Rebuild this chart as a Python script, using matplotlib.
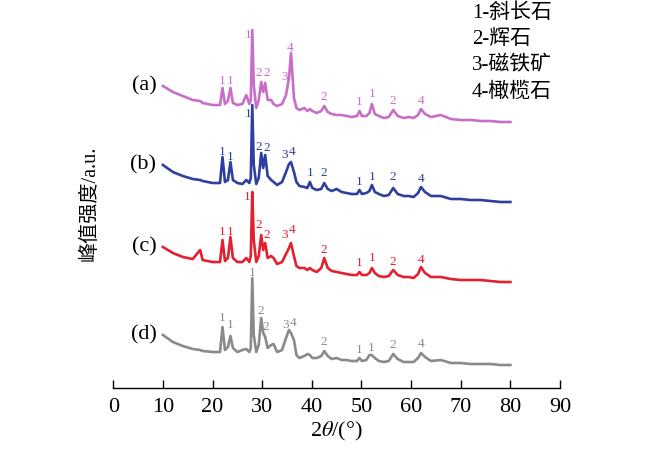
import matplotlib
matplotlib.use('Agg')
import numpy as np
import matplotlib.pyplot as plt

plt.rcParams['font.family'] = ['Liberation Serif', 'Noto Sans CJK SC']
plt.rcParams['mathtext.fontset'] = 'stix'

# 2theta grid (deg) and intensities (a.u., relative to each pattern's tail)
two_theta = [10, 12, 14, 16, 17.5, 18, 20, 21.5, 22.0, 22.5, 23.1, 23.6, 24.1,
             25, 26, 26.8, 27.4, 27.7, 28.0, 28.3, 28.8, 29.3, 29.8, 30.2, 30.6,
             31.1, 31.8, 32.3, 33, 34, 34.8, 35.4, 35.8, 36.4, 36.9, 37.5, 38.5,
             39.1, 39.6, 40.1, 41, 41.9, 42.5, 43.2, 44, 45, 46, 47, 48, 49.1,
             49.6, 50.1, 51, 51.6, 52.1, 52.7, 53.5, 54.5, 55.5, 56.4, 57.3, 58.5,
             59.5, 60.5, 61.4, 62.0, 62.8, 64, 66, 68, 70, 72, 74, 76, 78, 80]

int_a = [36, 30, 26, 22, 21, 19, 17, 17, 34, 18, 21, 34, 19,
         17, 18, 27, 18, 22, 92, 37, 14, 22, 40, 30, 39,
         22, 22, 18, 16, 18, 27, 44, 69, 24, 14, 12, 14,
         11, 13, 11, 9, 11, 16, 10, 8, 7, 7, 6, 5, 6,
         11, 6, 6, 9, 18, 8, 6, 4, 5, 12, 6, 4,
         5, 4, 7, 13, 8, 5, 7, 3, 2, 2, 1, 1, 0, 0]

int_b = [37, 30, 26, 23, 22, 21, 19, 19, 45, 20, 22, 40, 22,
         19, 18, 22, 19, 24, 97, 37, 18, 24, 49, 34, 47,
         26, 22, 20, 17, 20, 30, 38, 40, 30, 20, 16, 15,
         14, 20, 14, 12, 13, 19, 13, 11, 13, 10, 9, 8, 8,
         12, 8, 9, 11, 17, 10, 8, 6, 7, 14, 8, 6,
         6, 5, 9, 15, 10, 6, 6, 3, 3, 2, 2, 1, 0, 0]

int_c = [35, 29, 25, 23, 32, 22, 20, 20, 42, 21, 24, 45, 24,
         20, 20, 24, 20, 26, 90, 42, 20, 26, 47, 32, 39,
         24, 26, 24, 18, 20, 28, 34, 39, 26, 16, 14, 14,
         12, 14, 12, 10, 14, 24, 14, 11, 10, 9, 8, 7, 7,
         10, 7, 7, 9, 14, 9, 6, 5, 6, 12, 7, 5,
         5, 4, 8, 15, 9, 5, 5, 3, 2, 2, 2, 1, 0, 0]

int_d = [30, 23, 19, 16, 15, 14, 13, 13, 38, 15, 18, 29, 17,
         13, 15, 16, 13, 17, 87, 30, 13, 20, 47, 32, 28,
         17, 20, 21, 13, 15, 27, 35, 32, 25, 10, 7, 9,
         11, 10, 7, 7, 9, 14, 9, 6, 7, 5, 5, 4, 4,
         7, 4, 5, 10, 10, 7, 4, 3, 4, 11, 6, 3,
         3, 3, 7, 12, 8, 4, 5, 2, 2, 1, 1, 1, 0, 0]

samples = ['(a)', '(b)', '(c)', '(d)']
intensities = [int_a, int_b, int_c, int_d]

# phase marks: (phase number, 2theta, height of the mark)
marks_a = [('1', 21.9, 41), ('1', 23.5, 41), ('1', 27.1, 87), ('2', 29.4, 49),
           ('2', 31.0, 49), ('3', 34.6, 45), ('4', 35.6, 74), ('2', 42.5, 25),
           ('1', 49.5, 20), ('1', 52.2, 28), ('2', 56.4, 21), ('4', 62.0, 21)]
marks_b = [('1', 21.9, 50), ('1', 23.5, 45), ('1', 27.1, 88), ('2', 29.4, 55),
           ('2', 31.0, 54), ('3', 34.6, 47), ('4', 36.0, 50), ('1', 39.6, 29),
           ('2', 42.5, 29), ('1', 49.5, 20), ('1', 52.2, 25), ('2', 56.4, 25),
           ('4', 62.0, 23)]
marks_c = [('1', 21.9, 50), ('1', 23.5, 50), ('1', 27.0, 85), ('2', 29.4, 57),
           ('2', 31.0, 47), ('3', 34.6, 47), ('4', 36.0, 52), ('2', 42.5, 32),
           ('1', 49.6, 19), ('1', 52.2, 24), ('2', 56.4, 20), ('4', 62.0, 22)]
marks_d = [('1', 21.9, 47), ('1', 23.6, 40), ('1', 28.0, 92), ('2', 29.8, 54),
           ('2', 30.8, 38), ('3', 34.8, 40), ('4', 36.2, 42), ('2', 42.5, 23),
           ('1', 49.5, 15), ('1', 52.0, 17), ('2', 56.4, 20), ('4', 62.0, 21)]
marks = [marks_a, marks_b, marks_c, marks_d]

phases = ['斜长石', '辉石', '磁铁矿', '橄榄石']

# stacking
offsets = [266, 186, 106, 23]
colors = ['#c86dc8', '#2f3f9f', '#e3202f', '#8a8a8a']

fig = plt.figure(figsize=(6.5, 4.5), dpi=100)
ax = fig.add_axes([113.3 / 650, 62 / 450, 446.7 / 650, 388 / 450])

x = np.array(two_theta)
for name, yv, off, col, mk in zip(samples, intensities, offsets, colors, marks):
    y = np.array(yv) + off
    ax.plot(x, y, color=col, lw=1.9, solid_joinstyle='round')
    ax.text(8.7, y[0], name, ha='right', va='center', fontsize=16)
    for t, px, h in mk:
        ax.text(px, h + off, t, color=col, fontsize=9.5, ha='center', va='center')

for i, p in enumerate(phases):
    ax.text(472 / 650, 1 - (13 + 26.3 * i) / 450, f'{i + 1}-{p}', transform=fig.transFigure,
            fontsize=15, ha='left', va='center')

ax.set_xlim(0, 90)
ax.set_ylim(0, 388)
ax.set_xticks(range(0, 91, 10))
ax.tick_params(axis='x', direction='in', length=6, width=1, labelsize=16, pad=7)
ax.set_yticks([])
for s in ['left', 'top', 'right']:
    ax.spines[s].set_visible(False)
ax.spines['bottom'].set_linewidth(1)
ax.patch.set_alpha(0)

ax.set_xlabel(r'2$\theta$/(°)', fontsize=16, labelpad=2)
fig.text(90 / 650, 1 - 203 / 450, '峰值强度/a.u.', rotation=90, fontsize=14.5,
         ha='center', va='center')

fig.savefig('out.png', dpi=100)
